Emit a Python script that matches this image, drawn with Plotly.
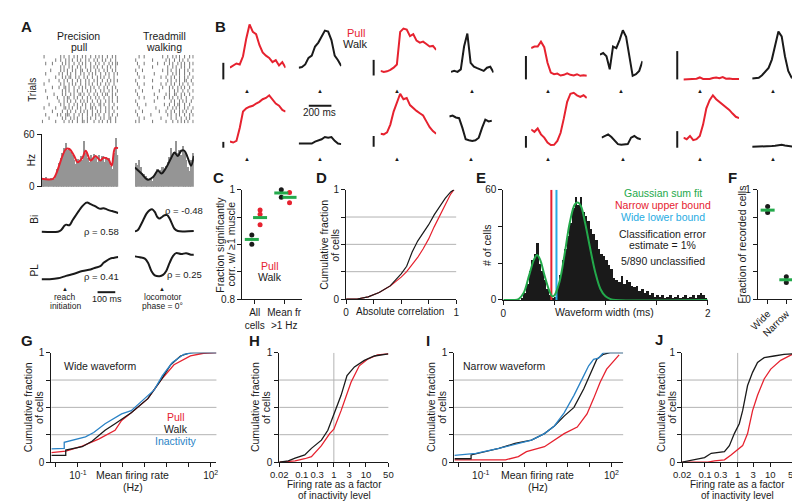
import plotly.graph_objects as go

W, H = 800, 502
RED = "#e6222f"
BLK = "#1a1a1a"
GRN = "#23a94b"
BLU = "#2a83c6"
CYN = "#27abe2"
GRAY = "#959595"
GRID = "#b3b3b3"
FONT = "Liberation Sans"

# ---------------- A: example neuron ----------------
# raster: one character per 10 ms bin, "|" = spike
pull_raster = [
    "|.......|....|..|.|..|..||.|...|..|.|..|.|..|.",
    "....|.......|.|..|.|.|..|..|.|..|..|.|..||..|.",
    "..|......|.|..|||..|..|.|..|..|.|.|..|..|.|..|",
    "......|.....|..|.|..|..|.|.|..|..|.|..|.|..|..",
    ".|......|....||.|.|..|.|..|..||.|..|..|.|.|..|",
    "....|......|.|..|..|.|..|.|..|.|..||.|..|..|..",
    "..........|..|.|.|..|..|.|.|..|..|.|..|.|.|..|",
    "...|.....|...|.||..|.|..|..|.|..|.|..|..|.|..|",
    ".......|....|.|..|.|..||.|..|..|.|..|.||..|.|.",
    "..|.........|.|.|..|.|..|..|.|..|..|.|..|.|..|",
    "......|...|..||.|..|..|.|.|..|.|..|..|.|..|.|.",
    ".|.........|.|..|.|.|..|..|.|.|..|.|..|.|..|..",
    "....|.....|..|.|..|..|.|..|.|..|.|..|..|.|.|.|",
    "........|...|.|.||..|.|..|.|..|..|.|.|..|..|..",
    "..|.......|.|..|.|..|..|.|..|.|.|..|..|.|..|.|",
    ".....|.....|.|.|..|.|..||..|.|..|.|..|.|..|.|.",
    "...........|.|..|.|..|.|..|..|.|.|..|..|.|..|.",
    "..|...|.....|.|.|..|..|.|.|..|..|.|..|..|.|.||",
    "........|..|..|.|.|..|.|..|.|..|.|..|.|..|..|.",
    ".|.........|.|..|..|.|..|.|..|..|.|.|..|..|.|.",
]
walk_raster = [
    "|.|.......|.......|...|..|.|.|.|..|",
    "..|..|.........|.....|..|..|..|.|..",
    ".|.......|.........|.|..|.|..|..|.|",
    "|...|.........|...|..|.|..|.|.|..|.",
    "..|.........|......|..|.|.|..|.|..|",
    ".|....|..........|..|..|.||..|..|..",
    "|..........|.........|.|..|.|.|..|.",
    "..|..|.......|...|..|.|..|.|..|...|",
    ".|.........|......|.|..||..|.|..|..",
    "|...|.........|.....|..|.|..|..|..|",
    "..|.......|.....|...|.|..|.|.|..|..",
    ".|...|.........|..|..|.|..|.|..|..|",
    "|.........|........|.|..|.|..||..|.",
    "..|..|.........|..|..|.|..|..|.|..|",
    ".|.........|.......|..|.|.|..|..|..",
    "|...|...........|..|.|..|.|..|.|..|",
    "..|.......|........|..|.|..|.|..|..",
    ".|...|.......|...|..|.|..|.|.|..|.|",
    "|.........|.......|.|..|..|.|..|...",
    "..|..|..........|..|..|.|.|..|..|.|",
]
# PSTH in Hz, 10 ms bins
pull_psth = [10, 8, 11, 9, 8, 10, 9, 9, 14, 20, 27, 33, 38, 44, 50, 42, 44, 40, 36, 30,
             26, 32, 30, 35, 30, 52, 38, 33, 28, 36, 30, 37, 34, 28, 36, 30, 35, 28, 34,
             30, 33, 24, 20, 38, 55, 36]
walk_psth = [27, 25, 30, 22, 16, 14, 12, 10, 8, 9, 7, 11, 14, 20, 16, 19, 22, 18, 24, 28,
             34, 44, 36, 40, 52, 38, 42, 36, 46, 40, 30, 22, 18, 30, 38]
pull_rate_t = [0, 69, 88, 147, 167, 196, 216, 245, 265, 294, 324, 353, 372, 402, 421, 441, 460]
pull_rate = [9, 9, 15, 43, 43, 35, 28, 33, 41, 30, 35, 30, 33, 31, 24, 44, 44]
walk_rate_t = [0, 39, 78, 108, 137, 157, 186, 216, 235, 255, 275, 294, 314, 333, 350]
walk_rate = [22, 15, 8, 11, 18.5, 15, 22, 33, 39, 35, 41, 41, 33, 24, 35]

# normalized muscle activity
bi_pull_t = [0, 98, 118, 137, 147, 167, 186, 206, 225, 245, 265, 274, 294, 314, 333, 353,
             372, 392, 412, 431, 460]
bi_pull = [0, 0, 0.06, 0.2, 0.24, 0.22, 0.39, 0.56, 0.72, 0.87, 0.98, 1.0, 0.94, 0.89,
           0.83, 0.78, 0.8, 0.76, 0.72, 0.69, 0.64]
bi_walk_t = [0, 16, 29, 49, 69, 88, 102, 118, 133, 147, 161, 176, 192, 206, 220, 235, 255,
             294, 350]
bi_walk = [0, 0.05, 0.2, 0.5, 0.8, 0.96, 1.0, 0.88, 0.65, 0.58, 0.65, 0.73, 0.73, 0.58,
           0.35, 0.12, 0.02, 0, 0.02]
pl_pull_t = [0, 49, 98, 147, 196, 245, 294, 323, 353, 372, 392, 412, 431, 460]
pl_pull = [0, 0, 0.04, 0.15, 0.25, 0.37, 0.44, 0.52, 0.59, 0.74, 0.84, 0.93, 0.96, 1.0]
pl_walk_t = [0, 29, 59, 78, 98, 118, 147, 167, 186, 206, 225, 245, 275, 304, 333, 350]
pl_walk = [0.86, 0.82, 0.76, 0.58, 0.23, 0.04, 0, 0.06, 0.23, 0.58, 0.86, 1.0, 0.96, 1.0,
           0.93, 0.93]
rho_text = ["ρ = 0.58", "ρ = -0.48", "ρ = 0.41", "ρ = 0.25"]

# ---------------- B: 8 example cells, rate (Hz) every 30 ms ----------------
B_STEP = 30
b_pull = [
    [12, 14.3, 16.3, 15.3, 23.7, 42, 56.3, 48.7, 46.3, 35.3, 27.7, 24.3, 22, 17.7, 19.7, 14.3, 17.7, 12],
    [4.7, 3.7, 4.3, 5.7, 8, 11.3, 44.7, 48, 47, 40.3, 42.3, 35.7, 33.7, 34.7, 32.3, 29.7, 30.3, 26.3],
    [32, 33.7, 33.7, 38.7, 33, 17, 7, 5.3, 6, 4, 4.7, 6.3, 4.7, 4, 5.3, 3.7, 4.3, 3.7],
    [0, 0, 0, 0.3, 0.7, 2, 0.5, 0.3, 0.5, 1.5, 2, 1.2, 2.3, 0.7, 1, 0.5, 0.7, 0.3],
    [6.3, 5.3, 7, 20.3, 37, 40.3, 42, 43, 45.3, 47, 49.7, 51, 53.7, 49.7, 45.3, 43, 38.7, 37],
    [13.3, 12.7, 14.7, 22.7, 36, 46, 54.3, 48.7, 50, 42.7, 39.3, 36.7, 34.3, 32, 26, 20, 16, 13.3],
    [18.7, 16.3, 19.7, 13.7, 10.3, 5.3, 2.7, 3, 7, 15.3, 30.3, 47, 55.3, 56.3, 53.7, 52, 53.7, 51],
    [10.3, 8.7, 12, 7.7, 8.7, 12, 23.7, 40.3, 48.7, 53.7, 49.7, 47, 43.7, 41, 38.7, 35, 31.7, 30.3],
]
b_walk = [
    [12, 12.7, 15.3, 22, 24.3, 33.7, 37.7, 44.3, 50, 49, 40.3, 24.3, 19.7, 13.7],
    [3.7, 4.7, 3.7, 6.3, 29.7, 43, 13, 9, 7.5, 6.3, 4.7, 8, 9, 3],
    [25.3, 27, 23.7, 10.3, 33.7, 32, 40.3, 50.3, 43.7, 23.7, 3.7, 5.3, 8.7, 18.7],
    [1, 1, 1.7, 4.3, 8.3, 11.7, 20.3, 35.3, 49, 44, 23.7, 8.7, 2, 1],
    [4.3, 4.3, 4.7, 4.3, 4.3, 6.3, 7.7, 8.7, 11, 10.3, 11, 7, 4.3, 3.7],
    [31, 32, 30, 29.3, 19.3, 7.7, 6.7, 6, 6.7, 9.3, 19.3, 27.7, 26, 26.7],
    [10.3, 12, 13.7, 11, 7, 3.7, 3, 3, 3.7, 10.3, 12, 9.7, 8.7],
    [1, 1, 1.3, 1, 1.5, 1.3, 1.7, 2, 2.3, 3, 2.3, 1.7, 1.3, 1],
]
b_event_pull = 155   # ms from trace start
b_event_walk = 195

# ---------------- C ----------------
c_groups = ["All<br>cells", "Mean fr<br>>1 Hz"]
c_walk = [[0.917, 0.900], [1.000, 0.986]]
c_walk_mean = [0.909, 0.994]
c_pull = [[0.963, 0.955, 0.936], [0.995, 0.976]]
c_pull_mean = [0.949, 0.986]

# ---------------- D ----------------
d_corr = [0, 0.1, 0.2, 0.3, 0.4, 0.5, 0.55, 0.6, 0.65, 0.7, 0.75, 0.8, 0.85, 0.9, 0.95, 0.98]
d_walk = [0, 0, 0.02, 0.06, 0.12, 0.23, 0.3, 0.43, 0.53, 0.6, 0.68, 0.77, 0.85, 0.92, 0.98, 1.0]
d_pull = [0, 0, 0.02, 0.06, 0.12, 0.2, 0.25, 0.31, 0.38, 0.46, 0.55, 0.66, 0.76, 0.87, 0.96, 1.0]

# ---------------- E ----------------
E_BIN = 0.025
e_counts = [0, 0, 0, 0, 0, 0, 0, 1, 4, 9, 16, 22, 25, 31, 20, 16, 11, 6, 3, 1,
            2, 7, 14, 22, 28, 35, 42, 50, 56, 52, 56, 48, 46, 43, 39, 36, 33, 28, 25, 24,
            22, 19, 17, 12, 11, 10, 13, 9, 11, 10, 8, 7, 8, 5, 6, 4, 5, 3, 4, 2,
            3, 2, 3, 1, 2, 3, 1, 2, 3, 1, 2, 3, 1, 2, 3, 1, 3, 4, 3, 1]
e_fit_x = [0, 0.1, 0.15, 0.2, 0.25, 0.3, 0.33, 0.36, 0.4, 0.45, 0.48, 0.5, 0.55, 0.6, 0.65,
           0.7, 0.73, 0.76, 0.8, 0.85, 0.9, 0.95, 1.0, 1.05, 1.1, 2.0]
e_fit_y = [0, 0, 0.5, 4, 13, 22, 24.5, 22, 14, 5, 2, 2.5, 10, 25, 42, 52, 53, 51, 42, 28,
           15, 6, 2, 0.5, 0, 0]
e_narrow_upper = 0.47
e_wide_lower = 0.52
e_notes = ["Gaussian sum fit", "Narrow upper bound", "Wide lower bound",
           "Classification error", "estimate = 1%", "5/890 unclassified"]

# ---------------- F ----------------
f_groups = ["Wide", "Narrow"]
f_vals = [[0.846, 0.792], [0.203, 0.152]]
f_mean = [0.813, 0.176]

# ---------------- G: wide waveform, mean rate (Hz) CDFs ----------------
g_pull_x = [0.025, 0.053, 0.125, 0.293, 0.69, 0.97, 1.6, 3.8, 7.5, 14.8, 34.8, 68.7, 135]
g_pull_y = [0.086, 0.10, 0.145, 0.21, 0.29, 0.38, 0.45, 0.58, 0.75, 0.89, 0.97, 0.995, 1.0]
g_walk_x = [0.025, 0.053, 0.053, 0.125, 0.208, 0.41, 0.69, 1.6, 3.8, 7.5, 12.5, 20.8, 34.8, 135]
g_walk_y = [0.06, 0.06, 0.11, 0.14, 0.19, 0.29, 0.35, 0.45, 0.58, 0.75, 0.89, 0.97, 1.0, 1.0]
g_rest_x = [0.025, 0.049, 0.049, 0.148, 0.227, 0.41, 0.97, 1.6, 3.2, 5.3, 8.1, 13.6, 24.7, 41, 135]
g_rest_y = [0.12, 0.125, 0.18, 0.23, 0.27, 0.35, 0.44, 0.47, 0.58, 0.66, 0.79, 0.91, 0.985, 1.0, 1.0]

# ---------------- H: wide, rate / inactivity rate ----------------
h_walk_x = [0.02, 0.038, 0.062, 0.124, 0.2, 0.41, 0.65, 1.0, 1.68, 2.57, 4.37, 8.9, 18.2, 50]
h_walk_y = [0, 0.01, 0.036, 0.065, 0.125, 0.2, 0.29, 0.44, 0.61, 0.79, 0.87, 0.93, 0.97, 0.99]
h_pull_x = [0.02, 0.062, 0.124, 0.2, 0.41, 0.74, 1.0, 1.68, 3.43, 6.2, 11.2, 22.9, 50]
h_pull_y = [0, 0.01, 0.03, 0.05, 0.15, 0.26, 0.30, 0.47, 0.73, 0.88, 0.94, 0.98, 0.99]

# ---------------- I: narrow waveform ----------------
i_pull_x = [0.025, 0.37, 0.73, 1.12, 2.9, 4.9, 8.2, 16.4, 27.5, 38.9, 55, 77.6, 110, 150]
i_pull_y = [0.02, 0.02, 0.05, 0.095, 0.14, 0.2, 0.26, 0.32, 0.44, 0.58, 0.73, 0.85, 0.92, 0.98]
i_walk_x = [0.025, 0.06, 0.06, 0.13, 0.26, 0.61, 1.46, 2.9, 4.9, 8.2, 13.8, 23.2, 32.7, 46.2,
            65.3, 92.3, 186]
i_walk_y = [0.03, 0.03, 0.065, 0.095, 0.125, 0.17, 0.2, 0.26, 0.33, 0.42, 0.5, 0.67, 0.81,
            0.94, 0.985, 1.0, 1.0]
i_rest_x = [0.025, 0.077, 0.26, 0.61, 1.46, 2.9, 4.9, 8.2, 13.8, 23.2, 30, 38.9, 50.5, 65.3, 186]
i_rest_y = [0.06, 0.08, 0.125, 0.16, 0.2, 0.26, 0.33, 0.45, 0.61, 0.79, 0.88, 0.94, 0.95, 1.0, 1.0]

# ---------------- J: narrow, rate / inactivity rate ----------------
j_walk_x = [0.02, 0.03, 0.061, 0.097, 0.155, 0.247, 0.394, 0.558, 0.79, 1.12, 1.42, 2.01,
            2.86, 4.06, 6.47, 13, 26.2, 50]
j_walk_y = [0, 0.01, 0.03, 0.04, 0.08, 0.086, 0.095, 0.15, 0.26, 0.35, 0.47, 0.70, 0.82,
            0.91, 0.955, 0.97, 0.985, 0.99]
j_pull_x = [0.02, 0.122, 0.195, 0.394, 0.627, 1.0, 1.42, 2.01, 2.86, 4.06, 6.47, 10.3, 20.7, 50]
j_pull_y = [0, 0, 0.01, 0.02, 0.065, 0.11, 0.15, 0.26, 0.47, 0.61, 0.76, 0.85, 0.93, 0.99]

cdf_ticks = [0, 0.25, 0.5, 0.75, 1]
cdf_ticktext = ["0", "", "", "", "1"]
ratio_ticks = [0.02, 0.1, 0.3, 1, 3, 10, 50]
rate_ticks = [0.0316, 0.1, 0.316, 1, 3.16, 10, 31.6, 100]
rate_ticktext = ["", "10<sup>-1</sup>", "", "", "", "", "", "10<sup>2</sup>"]

# ================= figure =================
fig = go.Figure()
lay = {}
ann = []
shp = []
n_axes = [0]

AX = dict(showline=True, linecolor=BLK, linewidth=1, ticks="outside", ticklen=4,
          tickwidth=1, tickcolor=BLK, tickfont=dict(family=FONT, size=10, color=BLK),
          showgrid=False, zeroline=False, tickangle=0)


def axes(xpx, ypx, xr, yr, xa=None, ya=None, xtype="linear"):
    n_axes[0] += 1
    k = "" if n_axes[0] == 1 else str(n_axes[0])
    xd = dict(domain=[xpx[0] / W, xpx[1] / W], range=xr, type=xtype, anchor="y" + k,
              visible=False, fixedrange=True)
    yd = dict(domain=[1 - ypx[1] / H, 1 - ypx[0] / H], range=yr, anchor="x" + k,
              visible=False, fixedrange=True)
    if xa is not None:
        xd.update(AX)
        xd.update(xa)
        xd["visible"] = True
    if ya is not None:
        yd.update(AX)
        yd.update(ya)
        yd["visible"] = True
    lay["xaxis" + k] = xd
    lay["yaxis" + k] = yd
    return "x" + k, "y" + k


def line(ax, x, y, color=BLK, width=1.3, shape="linear"):
    fig.add_trace(go.Scatter(x=x, y=y, xaxis=ax[0], yaxis=ax[1], mode="lines",
                             line=dict(color=color, width=width, shape=shape),
                             showlegend=False, hoverinfo="skip"))


def text(xp, yp, s, size=10, color=BLK, angle=0, bold=False):
    if bold:
        s = "<b>" + s + "</b>"
    ann.append(dict(x=xp / W, y=1 - yp / H, xref="paper", yref="paper", text=s,
                    showarrow=False, textangle=angle, xanchor="center", yanchor="middle",
                    font=dict(family=FONT, size=size, color=color)))


def seg(x0, y0, x1, y1, width=2, color=BLK):
    shp.append(dict(type="line", xref="paper", yref="paper", x0=x0 / W, x1=x1 / W,
                    y0=1 - y0 / H, y1=1 - y1 / H, line=dict(color=color, width=width)))


def hgrid(ax, vals):
    for v in vals:
        shp.append(dict(type="line", xref=ax[0] + " domain", x0=0, x1=1, yref=ax[1],
                        y0=v, y1=v, line=dict(color=GRID, width=1), layer="below"))


def raster(ax, rows):
    xs, ys = [], []
    for i, row in enumerate(rows):
        for j, ch in enumerate(row):
            if ch == "|":
                xs.append(j * 10 + 5)
                ys.append(i)
    fig.add_trace(go.Scatter(x=xs, y=ys, xaxis=ax[0], yaxis=ax[1], mode="markers",
                             marker=dict(symbol="line-ns", size=2.5,
                                         line=dict(width=0.8, color="#555555")),
                             showlegend=False, hoverinfo="skip"))


# ---- A ----
ax = axes((25, 103), (42, 112), [0, 460], [-0.5, len(pull_raster) - 0.5])
raster(ax, pull_raster)
ax = axes((120, 180), (42, 112), [0, 350], [-0.5, len(walk_raster) - 0.5])
raster(ax, walk_raster)

ax = axes((25, 103), (123, 177), [0, 460], [0, 60],
          ya=dict(tickvals=[0, 60], ticktext=["0", "60"]))
fig.add_trace(go.Bar(x=[i * 10 + 5 for i in range(len(pull_psth))], y=pull_psth, width=10,
                     marker=dict(color=GRAY, line=dict(width=0)), xaxis=ax[0], yaxis=ax[1],
                     showlegend=False, hoverinfo="skip"))
line(ax, pull_rate_t, pull_rate, RED, 2, "spline")
ax = axes((120, 180), (123, 177), [0, 350], [0, 60])
fig.add_trace(go.Bar(x=[i * 10 + 5 for i in range(len(walk_psth))], y=walk_psth, width=10,
                     marker=dict(color=GRAY, line=dict(width=0)), xaxis=ax[0], yaxis=ax[1],
                     showlegend=False, hoverinfo="skip"))
line(ax, walk_rate_t, walk_rate, BLK, 2, "spline")

ax = axes((25, 103), (190, 226), [0, 460], [-0.1, 1.1])
line(ax, bi_pull_t, bi_pull, BLK, 2, "spline")
ax = axes((120, 180), (197, 225.7), [0, 350], [-0.132, 1.132])
line(ax, bi_walk_t, bi_walk, BLK, 2, "spline")
ax = axes((25, 103), (246, 274.7), [0, 460], [-0.132, 1.132])
line(ax, pl_pull_t, pl_pull, BLK, 2, "spline")
ax = axes((120, 180), (242, 271.7), [0, 350], [-0.127, 1.127])
line(ax, pl_walk_t, pl_walk, BLK, 2, "spline")

text(10, 13, "A", 15, bold=True)
text(63, 23, "Precision", 10.5)
text(63, 34, "pull", 10.5)
text(150, 23, "Treadmill", 10.5)
text(150, 34, "walking", 10.5)
text(15, 78, "Trials", 10, angle=-90)
text(15, 150, "Hz", 10, angle=-90)
text(18, 210, "Bi", 10, angle=-90)
text(18, 262, "PL", 10, angle=-90)
for (xp, yp), s in zip([(86, 223), (170, 201), (86, 269), (170, 267)], rho_text):
    text(xp, yp, s, 9.5)
text(49, 282, "▲", 6)
text(49, 290, "reach", 8.5)
text(49, 299.5, "initiation", 8.5)
seg(82, 285, 100, 285)
text(92, 292, "100 ms", 9)
text(148, 282, "▲", 6)
text(148, 290, "locomotor", 8.5)
text(148, 299.5, "phase = 0°", 8.5)

# ---- B ----
PX_MS = 9.0
b_pull_x0 = [216.7, 370, 523.3, 678.3, 216.7, 370, 523.3, 678.3]
b_walk_x0 = [286.7, 441.7, 593.3, 748.3, 286.7, 440, 595, 748.3]
b_base = [67, 63, 67, 67, 137, 136, 137, 137]
b_top = [5, 5, 5, 5, 75, 75, 75, 75]
b_bar_x = [210, 363, 518, 672, 210, 363, 518, 672]
b_bar_top = [50, 47, 43, 38, 131, 125, 125, 120]
b_tri_y = [74, 74, 74, 74, 143, 143, 143, 143]
for i in range(8):
    for vals, x0, col, ev in ((b_pull[i], b_pull_x0[i], RED, b_event_pull),
                             (b_walk[i], b_walk_x0[i], BLK, b_event_walk)):
        span = (len(vals) - 1) * B_STEP
        ax = axes((x0, x0 + span / PX_MS), (b_top[i], b_base[i] + 2), [0, span],
                  [-2, b_base[i] - b_top[i]])
        line(ax, [j * B_STEP for j in range(len(vals))], vals, col, 2)
        ann.append(dict(x=ev, xref=ax[0], y=1 - b_tri_y[i] / H, yref="paper", text="▲",
                        showarrow=False, font=dict(family=FONT, size=6, color=BLK)))
    seg(b_bar_x[i], b_bar_top[i], b_bar_x[i], b_base[i])
text(207, 13, "B", 15, bold=True)
text(345, 19, "Pull", 11, RED)
text(345, 31, "Walk", 11)
seg(297, 94, 320, 94)
text(308, 101, "200 ms", 10)

# ---- C ----
ax = axes((229, 290), (180, 292), [-0.433, 1.6], [0.8, 1],
          xa=dict(tickvals=[0, 1], ticktext=c_groups),
          ya=dict(tickvals=[0.8, 0.85, 0.9, 0.95, 1], ticktext=["0.8", "", "", "", "1"]))
for g in range(2):
    xb, xr = g - 0.1, g + 0.18
    fig.add_trace(go.Scatter(x=[xb] * len(c_walk[g]), y=c_walk[g], xaxis=ax[0], yaxis=ax[1],
                             mode="markers", marker=dict(color=BLK, size=5),
                             cliponaxis=False, showlegend=False, hoverinfo="skip"))
    fig.add_trace(go.Scatter(x=[xr] * len(c_pull[g]), y=c_pull[g], xaxis=ax[0], yaxis=ax[1],
                             mode="markers", marker=dict(color=RED, size=5),
                             cliponaxis=False, showlegend=False, hoverinfo="skip"))
    fig.add_trace(go.Scatter(x=[xb, xr], y=[c_walk_mean[g], c_pull_mean[g]], xaxis=ax[0],
                             yaxis=ax[1], mode="markers",
                             marker=dict(symbol="line-ew", size=10,
                                         line=dict(width=3, color=GRN)),
                             cliponaxis=False, showlegend=False, hoverinfo="skip"))
text(205, 168, "C", 15, bold=True)
text(207, 236, "Fraction significantly", 10.5, angle=-90)
text(218, 236, "corr. w/ ≥1 muscle", 10.5, angle=-90)
text(258, 258, "Pull", 10.5, RED)
text(258, 269, "Walk", 10.5)

# ---- D ----
ax = axes((335, 447), (180, 292), [0, 1], [0, 1],
          xa=dict(tickvals=cdf_ticks, ticktext=cdf_ticktext),
          ya=dict(tickvals=cdf_ticks, ticktext=cdf_ticktext))
hgrid(ax, [0.25, 0.5, 0.75])
line(ax, d_corr, d_pull, RED, 1.2)
line(ax, d_corr, d_walk, BLK, 1.2)
text(310, 168, "D", 15, bold=True)
text(313, 237, "Cumulative fraction", 10.5, angle=-90)
text(324, 237, "of cells", 10.5, angle=-90)
text(390, 305, "Absolute correlation", 10)

# ---- E ----
ax = axes((495, 703), (180, 293), [0, 2], [0, 60],
          xa=dict(tickvals=[0, 0.5, 1, 1.5, 2], ticktext=["0", "", "", "", "2"]),
          ya=dict(tickvals=[0, 20, 40, 60], ticktext=["0", "", "", "60"]))
fig.add_trace(go.Bar(x=[(k + 0.5) * E_BIN for k in range(len(e_counts))], y=e_counts,
                     width=E_BIN, marker=dict(color=BLK, line=dict(width=0)),
                     xaxis=ax[0], yaxis=ax[1], showlegend=False, hoverinfo="skip"))
line(ax, [e_narrow_upper] * 2, [0, 60], RED, 2)
line(ax, [e_wide_lower] * 2, [0, 60], CYN, 2)
line(ax, e_fit_x, e_fit_y, GRN, 2, "spline")
text(472, 167, "E", 15, bold=True)
text(479, 237, "# of cells", 10.5, angle=-90)
text(598, 305, "Waveform width (ms)", 10.5)
for s, yp, col in zip(e_notes, [183, 196, 208, 225, 237, 253],
                      [GRN, RED, CYN, BLK, BLK, BLK]):
    text(657, yp, s, 10.5, col)

# ---- F ----
ax = axes((754, 795), (180, 292), [-0.526, 1.63], [0, 1],
          xa=dict(tickvals=[0, 1], ticktext=f_groups, tickangle=-45),
          ya=dict(tickvals=cdf_ticks, ticktext=cdf_ticktext))
for g in range(2):
    fig.add_trace(go.Scatter(x=[g] * len(f_vals[g]), y=f_vals[g], xaxis=ax[0], yaxis=ax[1],
                             mode="markers", marker=dict(color=BLK, size=5),
                             cliponaxis=False, showlegend=False, hoverinfo="skip"))
fig.add_trace(go.Scatter(x=[0, 1], y=f_mean, xaxis=ax[0], yaxis=ax[1], mode="markers",
                         marker=dict(symbol="line-ew", size=10, line=dict(width=3, color=GRN)),
                         cliponaxis=False, showlegend=False, hoverinfo="skip"))
text(728, 168, "F", 15, bold=True)
text(738, 236, "Fraction of recorded cells", 10.5, angle=-90)

# ---- G ----
ax = axes((35, 203), (347, 459), [-1.6, 2.13], [0, 1], xtype="log",
          xa=dict(tickvals=rate_ticks, ticktext=rate_ticktext),
          ya=dict(tickvals=cdf_ticks, ticktext=cdf_ticktext))
hgrid(ax, [0.25, 0.5, 0.75])
line(ax, g_pull_x, g_pull_y, RED)
line(ax, g_walk_x, g_walk_y, BLK)
line(ax, g_rest_x, g_rest_y, BLU)
text(10, 335, "G", 15, bold=True)
text(12, 403, "Cumulative fraction", 10.5, angle=-90)
text(23, 403, "of cells", 10.5, angle=-90)
text(85, 361, "Wide waveform", 10.5)
text(162, 413, "Pull", 10.5, RED)
text(162, 425, "Walk", 10.5)
text(162, 437, "Inactivity", 10.5, BLU)
text(118, 472, "Mean firing rate", 10.5)
text(118, 485, "(Hz)", 10.5)

# ---- H ----
ax = axes((267, 378), (347, 459), [-1.699, 1.699], [0, 1], xtype="log",
          xa=dict(tickvals=ratio_ticks, ticktext=[str(v) for v in ratio_ticks],
                  tickfont=dict(family=FONT, size=9.5, color=BLK)),
          ya=dict(tickvals=cdf_ticks, ticktext=cdf_ticktext))
hgrid(ax, [0.25, 0.5, 0.75])
line(ax, [1, 1], [0, 1], GRID, 1)
line(ax, h_pull_x, h_pull_y, RED)
line(ax, h_walk_x, h_walk_y, BLK)
text(242, 334, "H", 15, bold=True)
text(243, 403, "Cumulative fraction", 10.5, angle=-90)
text(254, 403, "of cells", 10.5, angle=-90)
text(323, 482, "Firing rate as a factor", 10)
text(323, 493, "of inactivity level", 10)

# ---- I ----
ax = axes((445, 617), (347, 459), [-1.609, 2.27], [0, 1], xtype="log",
          xa=dict(tickvals=rate_ticks, ticktext=rate_ticktext),
          ya=dict(tickvals=cdf_ticks, ticktext=cdf_ticktext))
hgrid(ax, [0.25, 0.5, 0.75])
line(ax, i_pull_x, i_pull_y, RED)
line(ax, i_walk_x, i_walk_y, BLK)
line(ax, i_rest_x, i_rest_y, BLU)
text(418, 334, "I", 15, bold=True)
text(422, 403, "Cumulative fraction", 10.5, angle=-90)
text(433, 403, "of cells", 10.5, angle=-90)
text(496, 361, "Narrow waveform", 10.5)
text(530, 472, "Mean firing rate", 10.5)
text(530, 485, "(Hz)", 10.5)

# ---- J ----
ax = axes((677, 790), (347, 459), [-1.699, 1.699], [0, 1], xtype="log",
          xa=dict(tickvals=ratio_ticks, ticktext=[str(v) for v in ratio_ticks],
                  tickfont=dict(family=FONT, size=9.5, color=BLK)),
          ya=dict(tickvals=cdf_ticks, ticktext=cdf_ticktext))
hgrid(ax, [0.25, 0.5, 0.75])
line(ax, [1, 1], [0, 1], GRID, 1)
line(ax, j_pull_x, j_pull_y, RED)
line(ax, j_walk_x, j_walk_y, BLK)
text(653, 333, "J", 15, bold=True)
text(656, 403, "Cumulative fraction", 10.5, angle=-90)
text(667, 403, "of cells", 10.5, angle=-90)
text(733, 482, "Firing rate as a factor", 10)
text(733, 493, "of inactivity level", 10)

fig.update_layout(width=W, height=H, autosize=False, margin=dict(l=0, r=0, t=0, b=0),
                  paper_bgcolor="white", plot_bgcolor="rgba(0,0,0,0)", showlegend=False,
                  font=dict(family=FONT, size=10, color=BLK), bargap=0,
                  annotations=ann, shapes=shp, **lay)
fig.write_html("out.html")
